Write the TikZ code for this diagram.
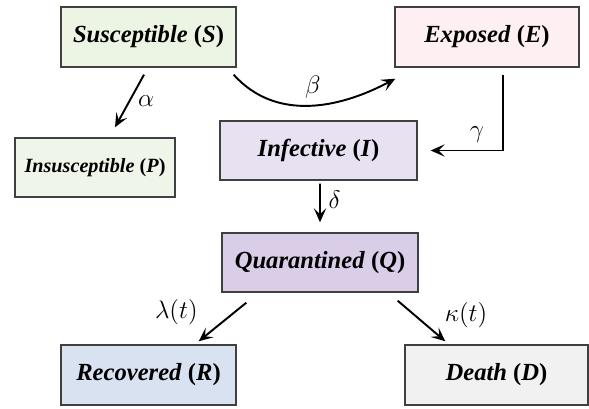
\documentclass[tikz,border=0pt]{standalone}
\usepackage{fontspec}
\setmainfont{Liberation Serif}
\usetikzlibrary{arrows.meta}

\definecolor{suscol}{RGB}{236,244,228}
\definecolor{expcol}{RGB}{253,239,242}
\definecolor{inscol}{RGB}{240,245,234}
\definecolor{infcol}{RGB}{231,225,241}
\definecolor{quacol}{RGB}{218,205,231}
\definecolor{reccol}{RGB}{216,226,241}
\definecolor{deacol}{RGB}{241,241,241}

\begin{document}
\begin{tikzpicture}[
    x=0.02cm, y=-0.02cm,
    compartment/.style={rectangle, draw=black!75, line width=0.8pt, minimum height=1.2cm, inner sep=2pt, font=\fontsize{14}{16}\selectfont\bfseries\itshape},
    flow/.style={line width=1.1pt, -{Stealth[length=8pt, width=7pt, inset=3.5pt]}},
    rate/.style={font=\fontsize{14}{16}\selectfont}
]
\useasboundingbox (0,0) rectangle (589,409);

% Compartiments
\node[compartment, fill=suscol, minimum width=3.5cm] (sus) at (148.5,37) {Susceptible \textup{(}S\textup{)}};
\node[compartment, fill=expcol, minimum width=3.68cm] (exp) at (487,37) {Exposed \textup{(}E\textup{)}};
\node[compartment, fill=inscol, minimum width=3.2cm, minimum height=1.18cm, font=\fontsize{11.5}{13}\selectfont\bfseries\itshape] (ins) at (95,167.5) {Insusceptible \textup{(}P\textup{)}};
\node[compartment, fill=infcol, minimum width=3.94cm, minimum height=1.18cm] (inf) at (318.5,150.5) {Infective \textup{(}I\textup{)}};
\node[compartment, fill=quacol, minimum width=3.92cm, minimum height=1.18cm] (qua) at (320,262.5) {Quarantined \textup{(}Q\textup{)}};
\node[compartment, fill=reccol, minimum width=3.5cm] (rec) at (148.5,375) {Recovered \textup{(}R\textup{)}};
\node[compartment, fill=deacol, minimum width=3.66cm] (dea) at (496.5,375) {Death \textup{(}D\textup{)}};

% Transitions
\draw[flow] ([xshift=-0.09cm, yshift=-0.14cm]sus.south) -- ([xshift=0.4cm, yshift=0.2cm]ins.north)
    node[rate, midway, right=1pt] {$\alpha$};
\draw[flow] ([xshift=-0.06cm, yshift=-0.14cm]sus.south east) to[out=-48, in=208]
    node[rate, pos=0.52, above=0pt] {$\beta$} ([xshift=0.02cm, yshift=-0.22cm]exp.south west);
\draw[flow] ([xshift=0.32cm, yshift=-0.14cm]exp.south) |- ([xshift=0.26cm]inf.east)
    node[rate, pos=0.68, above=1pt] {$\gamma$};
\draw[flow] ([xshift=0.03cm, yshift=-0.06cm]inf.south) -- ([yshift=0.2cm]qua.north)
    node[rate, midway, right=1pt, yshift=0.06cm] {$\delta$};
\draw[flow] ([xshift=0.5cm, yshift=-0.2cm]qua.south west) -- ([xshift=-0.76cm, yshift=0.06cm]rec.north east)
    node[rate, midway, left=0.36cm, yshift=0.2cm] {$\lambda(t)$};
\draw[flow] ([xshift=-0.42cm, yshift=-0.16cm]qua.south east) -- ([xshift=0.82cm, yshift=0.06cm]dea.north west)
    node[rate, midway, right=0.33cm, yshift=0.12cm] {$\kappa(t)$};

\end{tikzpicture}
\end{document}
